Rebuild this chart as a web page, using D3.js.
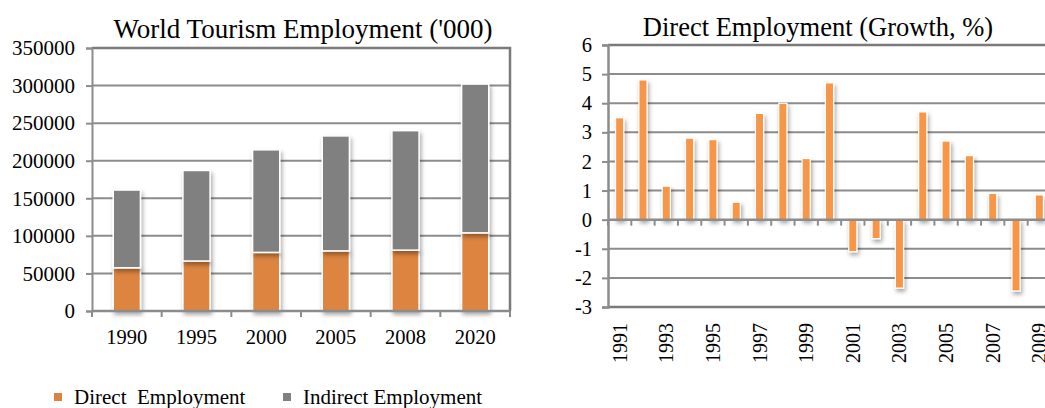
<!DOCTYPE html>
<html>
<head>
<meta charset="utf-8">
<script src="https://cdn.jsdelivr.net/npm/d3@7"></script>
<style>
  html, body { margin: 0; padding: 0; background: #fff; overflow: hidden; }
  svg { display: block; }
  svg text { font-family: "Liberation Serif", "Times New Roman", serif; fill: #000; }
</style>
</head>
<body>
<svg id="chart" width="1045" height="408"></svg>
<script>
// Stacked employment chart (thousands)
const years = ["1990", "1995", "2000", "2005", "2008", "2020"];
const directEmployment = [57500, 66500, 78000, 80000, 81000, 104000];
const indirectEmployment = [103500, 120500, 136500, 153000, 159000, 198000];
const employmentTicks = [0, 50000, 100000, 150000, 200000, 250000, 300000, 350000];

// Annual growth of direct employment (%)
const growthYears = ["1991", "1992", "1993", "1994", "1995", "1996", "1997", "1998", "1999", "2000",
                     "2001", "2002", "2003", "2004", "2005", "2006", "2007", "2008", "2009"];
const growthValues = [3.5, 4.8, 1.15, 2.8, 2.75, 0.6, 3.65, 4.0, 2.1, 4.7,
                      -1.1, -0.65, -2.35, 3.7, 2.7, 2.2, 0.9, -2.45, 0.85];
const growthTicks = [-3, -2, -1, 0, 1, 2, 3, 4, 5, 6];

const svg = d3.select("#chart");
const serif = "'Liberation Serif', 'Times New Roman', serif";
const gridColor = "#8c8c8c";
const frameColor = "#7a7a7a";

const defs = svg.append("defs");
const shadow = defs.append("filter").attr("id", "barShadow")
  .attr("x", "-50%").attr("y", "-20%").attr("width", "200%").attr("height", "140%");
shadow.append("feDropShadow").attr("dx", 1.5).attr("dy", 3).attr("stdDeviation", 2)
  .attr("flood-color", "#000").attr("flood-opacity", 0.35);

/* ---------- Left: World Tourism Employment ---------- */
const L = { left: 92, right: 510, top: 48, bottom: 311 };
const xL = d3.scaleBand().domain(years).range([L.left, L.right]).paddingInner(0.61).paddingOuter(0.305);
const yL = d3.scaleLinear().domain([0, 350000]).range([L.bottom, L.top]);

const gL = svg.append("g");

// gridlines
gL.append("g").selectAll("line").data(employmentTicks.filter(d => d > 0 && d < 350000)).join("line")
  .attr("x1", L.left).attr("x2", L.right)
  .attr("y1", d => yL(d)).attr("y2", d => yL(d))
  .attr("stroke", gridColor).attr("stroke-width", 2);

// frame (top and right)
gL.append("path")
  .attr("d", `M${L.left},${L.top}H${L.right}V${L.bottom}`)
  .attr("fill", "none").attr("stroke", frameColor).attr("stroke-width", 2.5);

// stacked bars
const stackData = years.map((y, i) => ({ year: y, direct: directEmployment[i], indirect: indirectEmployment[i] }));
const series = d3.stack().keys(["direct", "indirect"])(stackData);
const barColors = { direct: "#dc843f", indirect: "#808080" };

gL.append("g").selectAll("g").data(series).join("g")
  .attr("fill", d => barColors[d.key])
  .attr("filter", "url(#barShadow)")
  .selectAll("rect").data(d => d).join("rect")
  .attr("x", d => xL(d.data.year))
  .attr("width", xL.bandwidth())
  .attr("y", d => yL(d[1]))
  .attr("height", d => yL(d[0]) - yL(d[1]))
  .attr("stroke", "#fff").attr("stroke-width", 1.5);

// y axis
const yAxisL = gL.append("g").attr("transform", `translate(${L.left},0)`)
  .call(d3.axisLeft(yL).tickValues(employmentTicks).tickFormat(d => String(d)).tickSize(6).tickPadding(11));
yAxisL.select(".domain").attr("stroke", gridColor).attr("stroke-width", 2);
yAxisL.selectAll(".tick line").attr("stroke", gridColor).attr("stroke-width", 2);
yAxisL.selectAll("text").attr("font-size", 21).attr("fill", "#000").style("font-family", serif);

// x axis with ticks at category boundaries
const xAxisL = gL.append("g").attr("transform", `translate(0,${L.bottom})`);
xAxisL.append("line").attr("x1", L.left).attr("x2", L.right).attr("stroke", gridColor).attr("stroke-width", 2.5);
const stepL = xL.step();
xAxisL.selectAll("line.tk").data(d3.range(years.length + 1)).join("line").attr("class", "tk")
  .attr("x1", i => L.left + i * stepL).attr("x2", i => L.left + i * stepL)
  .attr("y1", 0).attr("y2", 6).attr("stroke", gridColor).attr("stroke-width", 2);
xAxisL.selectAll("text").data(years).join("text")
  .attr("x", d => xL(d) + xL.bandwidth() / 2).attr("y", 33)
  .attr("text-anchor", "middle").attr("font-size", 20.5).text(d => d);

// title
svg.append("text").attr("x", 303).attr("y", 38).attr("text-anchor", "middle")
  .attr("font-size", 27).text("World Tourism Employment ('000)");

// legend
const legend = svg.append("g");
const legendItems = [
  { label: "Direct  Employment", color: barColors.direct, x: 54 },
  { label: "Indirect Employment", color: barColors.indirect, x: 283 }
];
legendItems.forEach(it => {
  legend.append("rect").attr("x", it.x).attr("y", 393).attr("width", 8).attr("height", 8).attr("fill", it.color);
  legend.append("text").attr("x", it.x + 20).attr("y", 404).attr("font-size", 21)
    .attr("xml:space", "preserve").style("white-space", "pre").text(it.label);
});

/* ---------- Right: Direct Employment growth ---------- */
const R = { left: 608, right: 1051, top: 45, bottom: 307 };
const xR = d3.scaleBand().domain(growthYears).range([R.left, R.right]).paddingInner(0.65).paddingOuter(0.325);
const yR = d3.scaleLinear().domain([-3, 6]).range([R.bottom, R.top]);

const gR = svg.append("g");

gR.append("g").selectAll("line").data(growthTicks.filter(d => d > -3 && d < 6 && d !== 0)).join("line")
  .attr("x1", R.left).attr("x2", R.right)
  .attr("y1", d => yR(d)).attr("y2", d => yR(d))
  .attr("stroke", gridColor).attr("stroke-width", 2);

// frame top and bottom
gR.append("line").attr("x1", R.left).attr("x2", R.right).attr("y1", R.top).attr("y2", R.top)
  .attr("stroke", frameColor).attr("stroke-width", 2.5);
gR.append("line").attr("x1", R.left).attr("x2", R.right).attr("y1", R.bottom).attr("y2", R.bottom)
  .attr("stroke", frameColor).attr("stroke-width", 2.5);

// bars
gR.append("g").attr("fill", "#f79646").attr("filter", "url(#barShadow)")
  .selectAll("rect").data(growthValues).join("rect")
  .attr("x", (d, i) => xR(growthYears[i]))
  .attr("width", xR.bandwidth())
  .attr("y", d => yR(Math.max(0, d)))
  .attr("height", d => Math.abs(yR(d) - yR(0)))
  .attr("stroke", "#fff").attr("stroke-width", 1.2);

// zero axis with boundary ticks
const zeroY = yR(0);
const stepR = xR.step();
const xAxisR = gR.append("g").attr("transform", `translate(0,${zeroY})`);
xAxisR.append("line").attr("x1", R.left).attr("x2", R.right).attr("stroke", gridColor).attr("stroke-width", 2.5);
xAxisR.selectAll("line.tk").data(d3.range(growthYears.length + 1)).join("line").attr("class", "tk")
  .attr("x1", i => R.left + i * stepR).attr("x2", i => R.left + i * stepR)
  .attr("y1", 0).attr("y2", 6).attr("stroke", gridColor).attr("stroke-width", 2);

// y axis
const yAxisR = gR.append("g").attr("transform", `translate(${R.left},0)`)
  .call(d3.axisLeft(yR).tickValues(growthTicks).tickFormat(d => String(d)).tickSize(6).tickPadding(10));
yAxisR.select(".domain").attr("stroke", gridColor).attr("stroke-width", 2.5);
yAxisR.selectAll(".tick line").attr("stroke", gridColor).attr("stroke-width", 2);
yAxisR.selectAll("text").attr("font-size", 20.5).attr("fill", "#000").style("font-family", serif);

// rotated year labels (every other year)
gR.append("g").selectAll("text").data(growthYears.filter((d, i) => i % 2 === 0)).join("text")
  .attr("transform", d => `translate(${xR(d) + xR.bandwidth() / 2 + 7},${R.bottom + 16}) rotate(-90)`)
  .attr("text-anchor", "end").attr("font-size", 20).text(d => d);

svg.append("text").attr("x", 818).attr("y", 36).attr("text-anchor", "middle")
  .attr("font-size", 26.5).text("Direct Employment (Growth, %)");
</script>
</body>
</html>
